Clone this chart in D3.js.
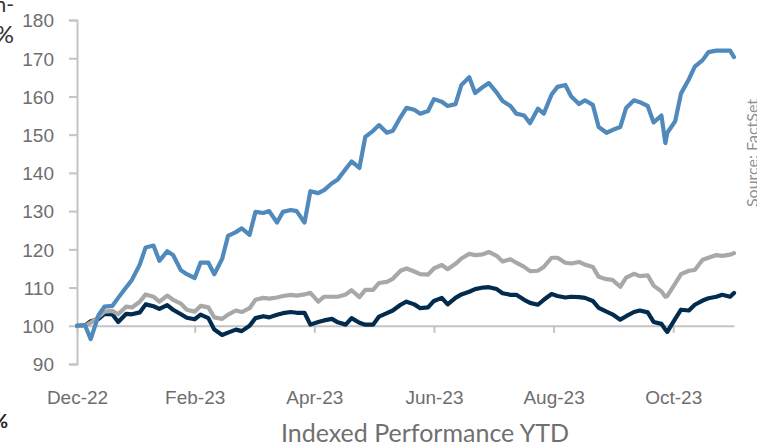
<!DOCTYPE html>
<html>
<head>
<meta charset="utf-8">
<script src="https://cdn.jsdelivr.net/npm/d3@7"></script>
<style>
  body { margin: 0; background: #fff; }
  svg { display: block; font-family: Lato, "Open Sans", sans-serif; }
  .axis path, .axis line { stroke: #c4c4c4; stroke-width: 2; }
  .axis text { fill: #6e6e6e; font-size: 19px; }
</style>
</head>
<body>
<svg></svg>
<script>
const DATES = [
  '2022-12-30','2023-01-03','2023-01-06','2023-01-10','2023-01-13','2023-01-17','2023-01-20','2023-01-24',
  '2023-01-27','2023-01-31','2023-02-03','2023-02-07','2023-02-10','2023-02-14','2023-02-17','2023-02-21',
  '2023-02-24','2023-02-28','2023-03-03','2023-03-07','2023-03-10','2023-03-14','2023-03-17','2023-03-21',
  '2023-03-24','2023-03-28','2023-03-31','2023-04-04','2023-04-07','2023-04-11','2023-04-14','2023-04-18',
  '2023-04-21','2023-04-25','2023-04-28','2023-05-02','2023-05-05','2023-05-09','2023-05-12','2023-05-16',
  '2023-05-19','2023-05-23','2023-05-26','2023-05-30','2023-06-02','2023-06-06','2023-06-09','2023-06-13',
  '2023-06-16','2023-06-20','2023-06-23','2023-06-27','2023-06-30','2023-07-04','2023-07-07','2023-07-11',
  '2023-07-14','2023-07-18','2023-07-21','2023-07-25','2023-07-28','2023-08-01','2023-08-04','2023-08-08',
  '2023-08-11','2023-08-15','2023-08-18','2023-08-22','2023-08-25','2023-08-29','2023-09-01','2023-09-05',
  '2023-09-08','2023-09-12','2023-09-15','2023-09-19','2023-09-22','2023-09-26','2023-09-29','2023-10-03',
  '2023-10-06','2023-10-10','2023-10-13','2023-10-17','2023-10-20','2023-10-24','2023-10-26','2023-10-27',
  '2023-10-31','2023-11-03','2023-11-07','2023-11-10','2023-11-14','2023-11-17','2023-11-21','2023-11-24',
  '2023-11-28','2023-11-30'
];

// light blue line
const STOCK = [
  100, 100.2, 96.5, 102.8, 105, 105.2, 107.3, 110, 112, 116, 120.5, 121, 117, 119.5, 118.5, 114.5,
  113.5, 112.5, 116.5, 116.5, 113.5, 117.5, 123.5, 124.5, 125.5, 123.8, 129.8, 129.5, 130, 127, 129.8, 130.3,
  130, 127, 135.2, 134.7, 135.5, 137.3, 138.3, 141, 143, 141.3, 149.4, 151, 152.5, 150.5, 151, 154.6,
  157, 156.5, 155.5, 156.2, 159.3, 158.6, 157.5, 158, 163, 165, 160.9, 162.5, 163.5, 161, 158.8, 157.5,
  155.5, 155, 153, 156.8, 155.5, 160.5, 162.5, 163, 160, 158, 159, 157.8, 152, 150.5, 151.2, 152,
  157, 159, 158.5, 157.5, 153.2, 155, 147.8, 150.5, 153.5, 160.8, 164.5, 167.8, 169.5, 171.6, 172, 172,
  172, 170.3
];

// grey line
const SECTOR = [
  100, 100, 100.8, 102.3, 103.7, 103.9, 103, 105, 104.8, 106.3, 108.2, 107.6, 106.3, 107.9, 106.8, 105.8,
  104.2, 103.7, 105.2, 104.8, 102.2, 101.8, 102.9, 104, 103.6, 104.6, 106.8, 107.3, 107.1, 107.4, 107.8, 108.1,
  107.9, 108.2, 108.6, 106.3, 107.6, 107.6, 107.6, 108.2, 109.3, 107.5, 109.4, 109.4, 111.2, 111.5, 112.3, 114.4,
  115, 114.2, 113.5, 113.4, 115, 115.9, 114.8, 116.2, 117.6, 118.8, 118.5, 118.7, 119.3, 118.3, 116.8, 117.4,
  116.5, 115.4, 114.3, 114.4, 115.4, 117.8, 117.8, 116.5, 116.3, 116.7, 116, 115.4, 112.8, 112.2, 112, 110.2,
  112.6, 113.6, 113, 113.2, 110.5, 109, 107.6, 107.8, 111, 113.5, 114.4, 114.6, 117.3, 117.8, 118.5, 118.3,
  118.6, 119
];

// navy line
const MARKET = [
  100, 100, 101.2, 101.8, 103.1, 103, 101, 103.1, 103, 103.5, 105.6, 105.1, 104.4, 105.4, 104.2, 103,
  102.1, 101.7, 102.9, 102, 99, 97.6, 98.2, 99, 98.6, 100, 102, 102.5, 102.2, 102.9, 103.3, 103.6,
  103.4, 103.4, 100.3, 101, 101.4, 101.8, 100.9, 100.3, 102, 100.8, 100.3, 100.3, 102.4, 103.3, 104, 105.5,
  106.3, 105.6, 104.6, 104.8, 106.5, 107.3, 105.6, 107.3, 108.2, 108.9, 109.6, 110, 110.1, 109.6, 108.5, 108.1,
  108.1, 106.8, 106, 105.5, 106.8, 108.3, 107.8, 107.4, 107.6, 107.5, 107.3, 106.5, 104.7, 103.7, 103, 101.6,
  102.5, 103.6, 104, 103.5, 101, 100.5, 99, 98.4, 101.8, 104.2, 104, 105.5, 106.6, 107.2, 107.6, 108.1,
  107.6, 108.6
];

const TICK_DATES = ['2022-12-30','2023-02-28','2023-04-30','2023-06-30','2023-08-30','2023-10-30'];
const Y_TICKS = [90, 100, 110, 120, 130, 140, 150, 160, 170, 180];

const WIDTH = 757;
const HEIGHT = 442;
const PLOT = { left: 77, right: 734, top: 20, bottom: 364 };
const BASE = 100; // x axis crosses here
const LABEL_Y = 397;

const parse = d3.timeParse('%Y-%m-%d');
const dates = DATES.map(parse);

const x = d3.scaleTime()
  .domain([dates[0], dates[dates.length - 1]])
  .range([PLOT.left, PLOT.right]);
const y = d3.scaleLinear().domain([90, 180]).range([PLOT.bottom, PLOT.top]);

const svg = d3.select('svg').attr('width', WIDTH).attr('height', HEIGHT);

// y axis
svg.append('g')
  .attr('class', 'axis')
  .attr('transform', `translate(${PLOT.left},0)`)
  .call(d3.axisLeft(y).tickValues(Y_TICKS).tickSize(8).tickSizeOuter(8).tickPadding(15))
  .call(g => g.selectAll('text').attr('dy', '0.36em'));

// x axis sits on the 100 line, labels pushed to the bottom
const xAxis = svg.append('g')
  .attr('class', 'axis')
  .attr('transform', `translate(0,${y(BASE)})`)
  .call(d3.axisBottom(x)
    .tickValues(TICK_DATES.map(parse))
    .tickFormat(d3.timeFormat('%b-%y'))
    .tickSize(7)
    .tickSizeOuter(0));
xAxis.selectAll('text')
  .attr('y', LABEL_Y - y(BASE))
  .attr('dy', '0.36em');

const line = d3.line()
  .x((d, i) => x(dates[i]))
  .y(d => y(d));

const SERIES = [
  { values: MARKET, color: '#032b4e' },
  { values: SECTOR, color: '#a8a8a8' },
  { values: STOCK, color: '#5089bb' },
];

svg.selectAll('.series')
  .data(SERIES)
  .enter()
  .append('path')
  .classed('series', true)
  .attr('d', d => line(d.values))
  .attr('fill', 'none')
  .attr('stroke', d => d.color)
  .attr('stroke-width', 4.2)
  .attr('stroke-linejoin', 'round')
  .attr('stroke-linecap', 'round');

// axis title
svg.append('text')
  .attr('x', 425)
  .attr('y', 433)
  .attr('dy', '0.36em')
  .attr('text-anchor', 'middle')
  .attr('fill', '#707070')
  .style('font-size', '25px')
  .text('Indexed Performance YTD');

// source note, clipped at the right edge
svg.append('text')
  .attr('transform', 'translate(758,153) rotate(-90)')
  .attr('text-anchor', 'middle')
  .attr('fill', '#909090')
  .style('font-size', '16px')
  .text('Source: FactSet');

// bits of neighbouring text cut by the frame
svg.append('text').attr('x', 14).attr('y', 12).attr('text-anchor', 'end')
  .attr('fill', '#333').style('font-size', '21px').text('n-');
svg.append('text').attr('x', 14).attr('y', 43).attr('text-anchor', 'end')
  .attr('fill', '#333').style('font-size', '24px').text('%');
svg.append('text').attr('x', 8).attr('y', 428).attr('text-anchor', 'end')
  .attr('fill', '#222').style('font-size', '19px').style('font-weight', 'bold').text('%');
</script>
</body>
</html>
